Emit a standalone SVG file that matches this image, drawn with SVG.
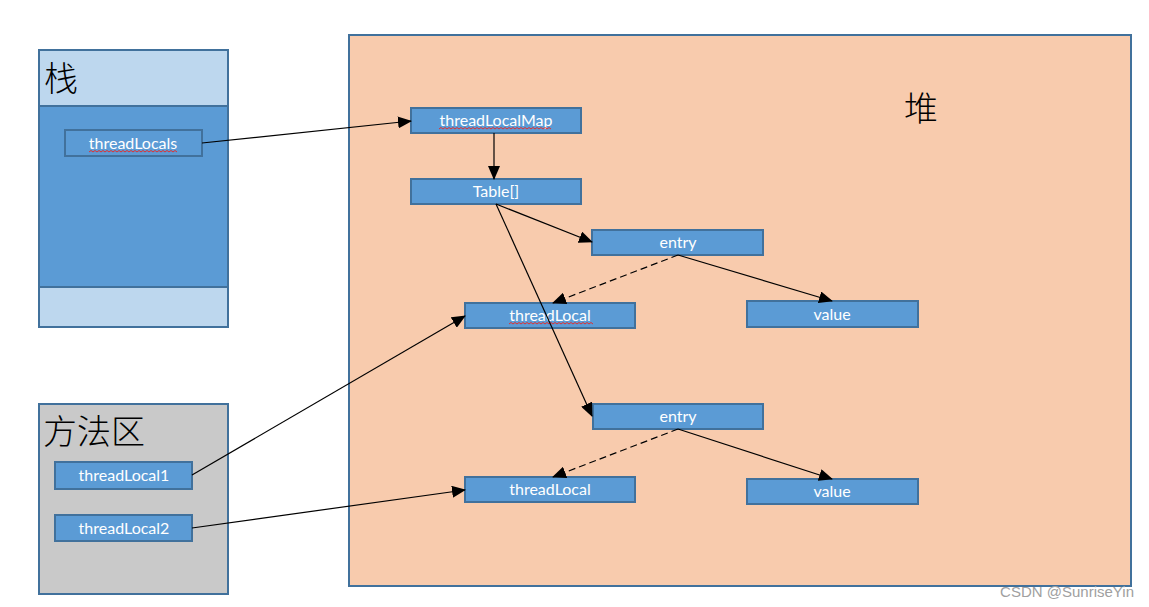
<svg xmlns="http://www.w3.org/2000/svg" width="1149" height="607" viewBox="0 0 1149 607">
<defs>
<style>
.box{fill:#5b9bd5;stroke:#41719c;stroke-width:2}
.lbl{fill:#fff;font-family:Lato,"Open Sans","Noto Sans",sans-serif;font-size:16px;text-anchor:middle}
.cjk{fill:#000;font-family:"Noto Sans CJK SC",sans-serif;font-size:34px;font-weight:300}
.ln{stroke:#000;stroke-width:1.2;fill:none}
.dash{stroke-dasharray:7,4}
.sq{stroke:#e03030;stroke-width:1;fill:none}
</style>
<marker id="ah" markerUnits="userSpaceOnUse" markerWidth="14" markerHeight="12" refX="13" refY="6" orient="auto">
<path d="M0,0 L14,6 L0,12 z" fill="#000"/>
</marker>
</defs>
<rect width="1149" height="607" fill="#fff"/>
<g id="stack">
<rect x="39" y="50" width="189" height="277" fill="#bdd7ee" stroke="#41719c" stroke-width="2"/>
<rect x="39" y="106" width="189" height="181" fill="#5b9bd5" stroke="#41719c" stroke-width="2"/>
<text class="cjk" x="44" y="91">栈</text>
</g>
<g id="threadLocals">
<rect class="box" x="65" y="130" width="137" height="26"/>
<text class="lbl" x="133" y="149">threadLocals</text>
<path class="sq" d="M89,152 l2,-1.5 l2,1.5 l2,-1.5 l2,1.5 l2,-1.5 l2,1.5 l2,-1.5 l2,1.5 l2,-1.5 l2,1.5 l2,-1.5 l2,1.5 l2,-1.5 l2,1.5 l2,-1.5 l2,1.5 l2,-1.5 l2,1.5 l2,-1.5 l2,1.5 l2,-1.5 l2,1.5 l2,-1.5 l2,1.5 l2,-1.5 l2,1.5 l2,-1.5 l2,1.5 l2,-1.5 l2,1.5 l2,-1.5 l2,1.5 l2,-1.5 l2,1.5 l2,-1.5 l2,1.5 l2,-1.5 l2,1.5 l2,-1.5 l2,1.5 l2,-1.5 l2,1.5 l2,-1.5 l2,1.5"/>
</g>
<g id="method-area">
<rect x="39" y="404" width="189" height="190" fill="#c9c9c9" stroke="#41719c" stroke-width="2"/>
<text class="cjk" x="43" y="444">方法区</text>
</g>
<g id="threadLocal1">
<rect class="box" x="55" y="462" width="137" height="27"/>
<text class="lbl" x="124" y="481">threadLocal1</text>
</g>
<g id="threadLocal2">
<rect class="box" x="55" y="515" width="137" height="26"/>
<text class="lbl" x="124" y="534">threadLocal2</text>
</g>
<g id="heap">
<rect x="349" y="35" width="782" height="551" fill="#f8cbad" stroke="#41719c" stroke-width="2"/>
<text class="cjk" x="904" y="121">堆</text>
</g>
<g id="threadLocalMap">
<rect class="box" x="411" y="108" width="170" height="25"/>
<text class="lbl" x="496" y="126">threadLocalMap</text>
<path class="sq" d="M439,129 l2,-1.5 l2,1.5 l2,-1.5 l2,1.5 l2,-1.5 l2,1.5 l2,-1.5 l2,1.5 l2,-1.5 l2,1.5 l2,-1.5 l2,1.5 l2,-1.5 l2,1.5 l2,-1.5 l2,1.5 l2,-1.5 l2,1.5 l2,-1.5 l2,1.5 l2,-1.5 l2,1.5 l2,-1.5 l2,1.5 l2,-1.5 l2,1.5 l2,-1.5 l2,1.5 l2,-1.5 l2,1.5 l2,-1.5 l2,1.5 l2,-1.5 l2,1.5 l2,-1.5 l2,1.5 l2,-1.5 l2,1.5 l2,-1.5 l2,1.5 l2,-1.5 l2,1.5 l2,-1.5 l2,1.5 l2,-1.5 l2,1.5 l2,-1.5 l2,1.5 l2,-1.5 l2,1.5 l2,-1.5 l2,1.5 l2,-1.5 l2,1.5 l2,-1.5 l2,1.5"/>
</g>
<g id="table">
<rect class="box" x="411" y="179" width="170" height="25"/>
<text class="lbl" x="496" y="197">Table[]</text>
</g>
<g id="entry1">
<rect class="box" x="592" y="230" width="171" height="25"/>
<text class="lbl" x="678" y="248">entry</text>
</g>
<g id="threadLocalA">
<rect class="box" x="465" y="303" width="170" height="25"/>
<text class="lbl" x="550" y="321">threadLocal</text>
<path class="sq" d="M509,324 l2,-1.5 l2,1.5 l2,-1.5 l2,1.5 l2,-1.5 l2,1.5 l2,-1.5 l2,1.5 l2,-1.5 l2,1.5 l2,-1.5 l2,1.5 l2,-1.5 l2,1.5 l2,-1.5 l2,1.5 l2,-1.5 l2,1.5 l2,-1.5 l2,1.5 l2,-1.5 l2,1.5 l2,-1.5 l2,1.5 l2,-1.5 l2,1.5 l2,-1.5 l2,1.5 l2,-1.5 l2,1.5 l2,-1.5 l2,1.5 l2,-1.5 l2,1.5 l2,-1.5 l2,1.5 l2,-1.5 l2,1.5 l2,-1.5 l2,1.5 l2,-1.5 l2,1.5"/>
</g>
<g id="value1">
<rect class="box" x="747" y="301" width="171" height="26"/>
<text class="lbl" x="832" y="320">value</text>
</g>
<g id="entry2">
<rect class="box" x="593" y="404" width="170" height="25"/>
<text class="lbl" x="678" y="422">entry</text>
</g>
<g id="threadLocalB">
<rect class="box" x="465" y="477" width="170" height="25"/>
<text class="lbl" x="550" y="495">threadLocal</text>
</g>
<g id="value2">
<rect class="box" x="747" y="479" width="171" height="25"/>
<text class="lbl" x="832" y="497">value</text>
</g>
<g id="connectors">
<line class="ln" x1="202" y1="143" x2="411" y2="121" marker-end="url(#ah)"/>
<line class="ln" x1="494" y1="133" x2="494" y2="179" marker-end="url(#ah)"/>
<line class="ln" x1="496" y1="204" x2="592" y2="242" marker-end="url(#ah)"/>
<line class="ln" x1="496" y1="204" x2="592" y2="416" marker-end="url(#ah)"/>
<line class="ln dash" x1="678" y1="255" x2="553" y2="303" marker-end="url(#ah)"/>
<line class="ln" x1="678" y1="255" x2="832" y2="301" marker-end="url(#ah)"/>
<line class="ln dash" x1="678" y1="429" x2="553" y2="477" marker-end="url(#ah)"/>
<line class="ln" x1="678" y1="429" x2="832" y2="479" marker-end="url(#ah)"/>
<line class="ln" x1="192" y1="475" x2="465" y2="316" marker-end="url(#ah)"/>
<line class="ln" x1="192" y1="528" x2="465" y2="490" marker-end="url(#ah)"/>
</g>
<text x="1134" y="597" fill="#a0a0a0" font-family="'Liberation Sans',Arial,sans-serif" font-size="15" text-anchor="end">CSDN @SunriseYin</text>
</svg>
